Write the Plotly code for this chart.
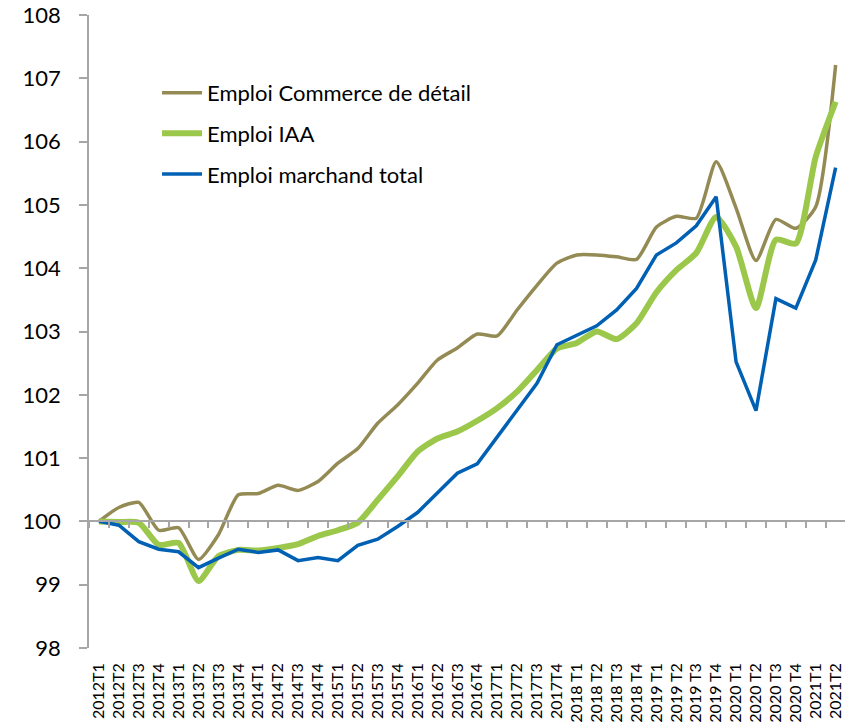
import plotly.graph_objects as go

quarters = ["2012T1", "2012T2", "2012T3", "2012T4", "2013T1", "2013T2", "2013T3", "2013T4",
            "2014T1", "2014T2", "2014T3", "2014T4", "2015T1", "2015T2", "2015T3", "2015T4",
            "2016T1", "2016T2", "2016T3", "2016T4", "2017T1", "2017T2", "2017T3", "2017T4",
            "2018 T1", "2018 T2", "2018 T3", "2018 T4", "2019 T1", "2019 T2", "2019 T3", "2019 T4",
            "2020 T1", "2020 T2", "2020 T3", "2020 T4", "2021T1", "2021T2"]

commerce = [100.0, 100.22, 100.3, 99.86, 99.9, 99.4, 99.79, 100.42,
            100.44, 100.57, 100.49, 100.63, 100.92, 101.15, 101.55, 101.84,
            102.18, 102.55, 102.74, 102.96, 102.93, 103.34, 103.73, 104.08,
            104.21, 104.21, 104.18, 104.14, 104.65, 104.82, 104.79, 105.68,
            104.95, 104.12, 104.77, 104.63, 104.97, 107.21]

iaa = [100.0, 99.99, 99.98, 99.63, 99.66, 99.06, 99.45, 99.55,
       99.54, 99.58, 99.64, 99.77, 99.86, 99.98, 100.34, 100.71,
       101.1, 101.31, 101.42, 101.59, 101.79, 102.05, 102.39, 102.73,
       102.82, 103.0, 102.88, 103.13, 103.62, 103.97, 104.24, 104.81,
       104.34, 103.37, 104.45, 104.39, 105.76, 106.63]

total = [100.0, 99.94, 99.68, 99.56, 99.52, 99.27, 99.42, 99.56,
         99.51, 99.55, 99.38, 99.43, 99.38, 99.62, 99.72, 99.92,
         100.14, 100.45, 100.76, 100.91, 101.34, 101.76, 102.18, 102.79,
         102.94, 103.09, 103.34, 103.68, 104.21, 104.4, 104.67, 105.13,
         102.52, 101.75, 103.52, 103.37, 104.13, 105.59]

names = ["Emploi Commerce de détail", "Emploi IAA", "Emploi marchand total"]
colors = ["#948A54", "#9BC84B", "#0060B4"]

FONT = "Lato"
AXIS_GREY = "#A6A6A6"

fig = go.Figure()
fig.add_trace(go.Scatter(x=quarters, y=commerce, name=names[0], mode="lines",
                         line=dict(color=colors[0], width=3.5, shape="spline", smoothing=0.6),
                         legendgroup="g1"))
fig.add_trace(go.Scatter(x=quarters, y=iaa, name=names[1], mode="lines",
                         line=dict(color=colors[1], width=6, shape="spline", smoothing=0.6),
                         legendgroup="g2"))
fig.add_trace(go.Scatter(x=quarters, y=total, name=names[2], mode="lines",
                         line=dict(color=colors[2], width=3.5),
                         legendgroup="g3"))
# helper trace so the crossing axis at 100 exists
fig.add_trace(go.Scatter(x=quarters, y=[None] * len(quarters), xaxis="x2", mode="lines",
                         showlegend=False, hoverinfo="skip"))

xr = [-0.5, 37.47]
fig.update_layout(
    width=845, height=725,
    margin=dict(l=89, r=0, t=15, b=77, autoexpand=False),
    paper_bgcolor="white", plot_bgcolor="white",
    font=dict(family=FONT, color="black"),
    showlegend=True,
    legend=dict(x=0.09, y=0.91, xanchor="left", yanchor="top",
                font=dict(family=FONT, size=22, color="black"),
                itemwidth=40,
                bgcolor="rgba(0,0,0,0)", tracegroupgap=9),
    xaxis=dict(type="category", categoryorder="array", categoryarray=quarters,
               range=xr, showline=False, showgrid=False, zeroline=False,
               tickmode="linear", tick0=0, dtick=1, automargin=False,
               ticks="", tickangle=-90, tickfont=dict(family=FONT, size=16, color="black"),
               ticklabelstandoff=11),
    xaxis2=dict(type="category", categoryorder="array", categoryarray=quarters,
                range=xr, overlaying="x", anchor="free", position=0.2,
                showline=True, linecolor=AXIS_GREY, linewidth=1.5,
                ticks="outside", ticklen=6, tickcolor=AXIS_GREY, tickwidth=1.5,
                tickson="boundaries", showticklabels=False, showgrid=False, zeroline=False),
    yaxis=dict(range=[98, 108], tick0=98, dtick=1, showline=True, linecolor=AXIS_GREY,
               linewidth=1.5, ticks="outside", ticklen=8, tickcolor=AXIS_GREY, tickwidth=1.5,
               showgrid=False, zeroline=False, automargin=False,
               tickfont=dict(family=FONT, size=22, color="black"), ticklabelstandoff=14),
)

fig.write_html("out.html")
